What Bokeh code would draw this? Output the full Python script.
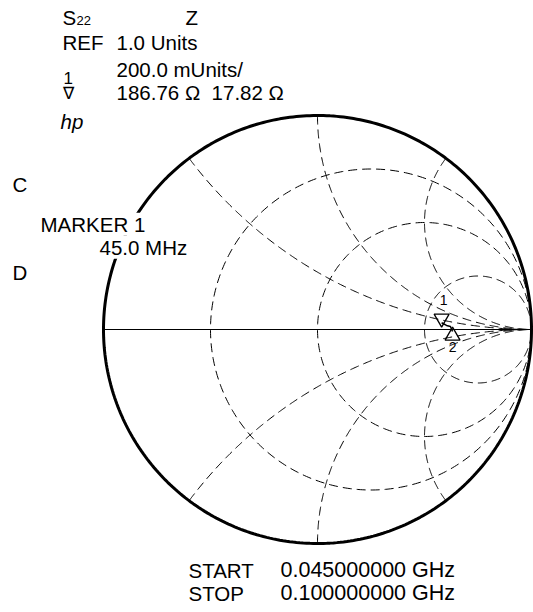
import numpy as np
from bokeh.plotting import figure
from bokeh.models import Range1d, Label
from bokeh.embed import file_html
from bokeh.resources import INLINE

# ---------------- data ----------------
Z0 = 50.0
trace_r_ohm = [186.76, 201.3, 213.6, 220.9]      # resistance along trace (45 -> 100 MHz)
trace_x_ohm = [17.82, 12.0, 9.7, -6.6]           # reactance along trace
marker_names = ["1", "2"]
marker_idx = [0, 3]
r_circles = [1 / 3, 1.0, 3.0]                    # normalized constant-resistance circles
x_arcs = [0.5, 1.0, 2.0]                         # normalized constant-reactance arcs (+/-)

# ---------------- geometry (page pixels) ----------------
W, H = 533, 612
CX, CY, SC = 317.0, 329.0, 214.0


def dx(px):
    return (px - CX) / SC


def dy(py):
    return (CY - py) / SC


p = figure(width=W, height=H, output_backend="svg", toolbar_location=None,
           x_range=Range1d(dx(0), dx(W)), y_range=Range1d(dy(H), dy(0)),
           x_axis_type=None, y_axis_type=None, min_border=0,
           outline_line_color=None, background_fill_color="white")
p.grid.visible = False

# grid curves
xs, ys = [], []
t = np.linspace(0, 2 * np.pi, 400)
for r in r_circles:
    c, rad = r / (1 + r), 1 / (1 + r)
    xs.append(list(c + rad * np.cos(t)))
    ys.append(list(rad * np.sin(t)))
for xv in x_arcs:
    cy, rad = 1 / xv, 1 / xv
    gx, gy = (xv ** 2 - 1) / (xv ** 2 + 1), 2 * xv / (xv ** 2 + 1)
    a0 = np.arctan2(gy - cy, gx - 1) % (2 * np.pi)
    a = np.linspace(a0, 1.5 * np.pi, 300)
    ax = 1 + rad * np.cos(a)
    ay = cy + rad * np.sin(a)
    xs.append(list(ax)); ys.append(list(ay))
    xs.append(list(ax)); ys.append(list(-ay))
p.multi_line(xs, ys, line_color="black", line_width=1, line_dash="9 5")

# real axis
p.line([-1, 1], [0, 0], line_color="black", line_width=1)
# outer circle
p.line(list(np.cos(t)), list(np.sin(t)), line_color="black", line_width=3)

# trace
z = (np.array(trace_r_ohm) + 1j * np.array(trace_x_ohm)) / Z0
g = (z - 1) / (z + 1)
p.line(list(g.real), list(g.imag), line_color="black", line_width=1.5)

FONT = "Liberation Sans"
msize = 15
off = (2 / 3) * 0.866 * msize / 2 / SC
i1, i2 = marker_idx
p.scatter([g.real[i1]], [g.imag[i1] + off], marker="inverted_triangle", size=msize,
          fill_color=None, line_color="black", line_width=1.3)
p.scatter([g.real[i2]], [g.imag[i2] - off], marker="triangle", size=msize,
          fill_color=None, line_color="black", line_width=1.3)


def tlab(x, y, text, size, align="left", style="normal", bg=None):
    kw = dict(background_fill_color=bg) if bg else {}
    p.add_layout(Label(x=x, y=y + 0.4 * size / SC, text=text, text_align=align,
                       text_baseline="alphabetic", text_font=FONT,
                       text_font_size=f"{size}px", text_font_style=style,
                       text_color="black", **kw))


tlab(g.real[i1] + 2 / SC, g.imag[i1] + 17 / SC, marker_names[0], 14, align="center")
tlab(g.real[i2], g.imag[i2] - 21 / SC, marker_names[1], 14, align="center")


def lab(px, py, text, size=20.5, style="normal", bg=None):
    tlab(dx(px), dy(py), text, size, style=style, bg=bg)


NB = "\u00a0"
lab(62, 25, "S")
lab(76, 25, "22", size=13)
lab(185, 25, "Z")
lab(62, 50, "REF")
lab(116, 50, "1.0 Units")
lab(116, 77, "200.0 mUnits/")
lab(63, 84, "1", size=17)
lab(62, 100, "\u2207", size=17)
lab(116, 100, "186.76" + NB + "\u03a9" + NB + NB + "17.82" + NB + "\u03a9")
lab(60, 129, "hp", style="italic")
lab(12, 192, "C")
lab(40, 232, "MARKER" + NB + "1", bg="white")
lab(99, 255, "45.0" + NB + "MHz", bg="white")
lab(12, 280, "D")
lab(188, 578, "START")
lab(280, 578, "0.045000000" + NB + "GHz", size=21.5)
lab(188, 601, "STOP")
lab(280, 601, "0.100000000" + NB + "GHz", size=21.5)

open("out.html", "w").write(file_html(p, INLINE))
